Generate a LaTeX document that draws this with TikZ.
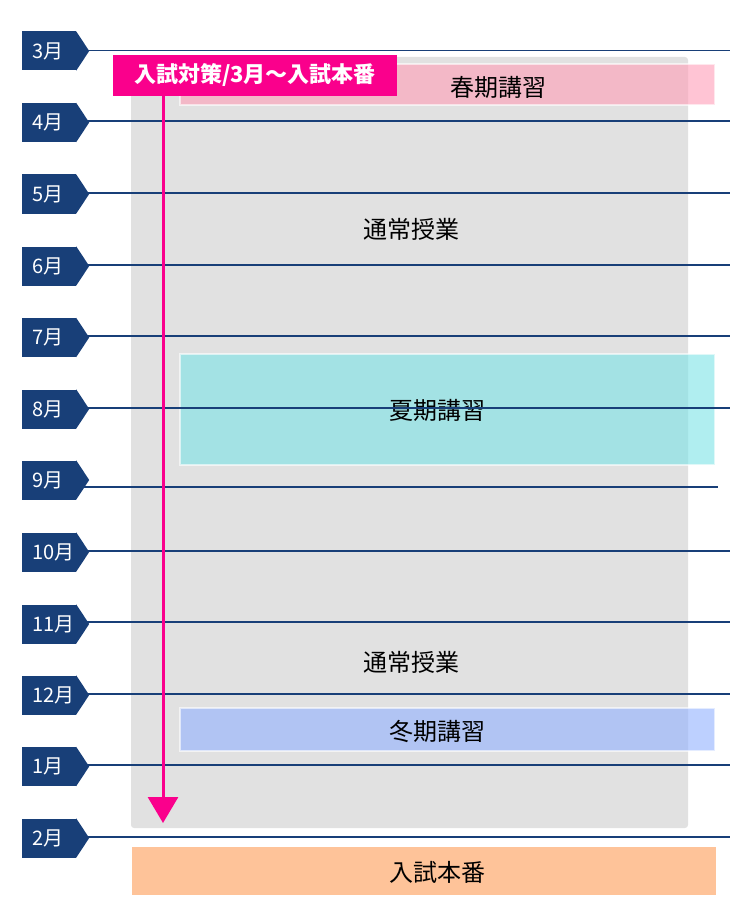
\documentclass[tikz,border=0pt]{standalone}
\usepackage{fontspec}
\setmainfont{Noto Sans CJK JP}
\usetikzlibrary{arrows.meta}
\definecolor{navy}{RGB}{24,63,120}
\definecolor{panelgray}{RGB}{225,225,225}
\definecolor{hotpink}{RGB}{250,0,140}
\definecolor{springpink}{RGB}{255,157,183}
\definecolor{summercyan}{RGB}{123,227,230}
\definecolor{winterblue}{RGB}{145,177,255}
\definecolor{examorange}{RGB}{254,195,153}
\tikzset{
	tab/.style={fill=navy, text=white, inner xsep=10, inner ysep=0, minimum height=39,
			text width=34, align=left, font=\fontsize{20}{20}\selectfont},
	monthline/.style={draw=navy, line width=1.1pt},
	season/.style={draw=white, draw opacity=0.6, line width=2pt, fill opacity=0.6},
	caption/.style={font=\fontsize{24}{24}\selectfont, text=black}
}

\begin{document}
\begin{tikzpicture}[x=1pt, y=-1pt]
        \useasboundingbox (0,0) rectangle (750,920);
        \fill [panelgray, rounded corners=3pt] (131, 57) rectangle (688, 828);
        \draw [season, fill=springpink] (180, 64) rectangle (715, 105);
        \draw [season, fill=summercyan] (180, 354) rectangle (715, 465);
        \draw [season, fill=winterblue] (180, 708) rectangle (715, 751);
        \fill [examorange] (132, 847) rectangle (716, 895);
        \node [caption] (spring) at (498, 87) {春期講習};
        \node [caption] (usual1) at (411, 229) {通常授業};
        \node [caption] (summer) at (437, 410) {夏期講習};
        \node [caption] (usual2) at (411, 662) {通常授業};
        \node [caption] (winter) at (437, 731) {冬期講習};
        \node [caption] (exam) at (437, 872) {入試本番};
        \foreach \m/\ty/\ly/\lx in {3/51/50.7/730, 4/122.5/121/730, 5/194/193/730, 6/266/265/730,
                7/337.5/336/730, 8/409/408/730, 9/480/487/718, 10/552/551/730,
                11/624/622/730, 12/695/694/730, 1/766.5/765/730, 2/838/837/730} {
            \coordinate (s\m) at (84, \ly);
            \coordinate (e\m) at (\lx, \ly);
            \draw [monthline] (s\m) -- (e\m);
            \node [tab] (m\m) at (49, \ty) {\m 月};
            \fill [navy] (m\m.north east) -- ([xshift=13pt]m\m.east) -- (m\m.south east) -- cycle;
        }
        \node [fill=hotpink, text=white, minimum width=284, minimum height=41.5, inner sep=0,
            font=\fontsize{22}{22}\selectfont\bfseries] (plan) at (255, 75.5) {入試対策/3月～入試本番};
        \coordinate (arrowend) at (163, 823);
        \draw [-{Triangle[width=30pt, length=26pt]}, draw=hotpink, fill=hotpink, line width=3pt]
            (plan.south -| arrowend) -- (arrowend);
    \end{tikzpicture}
\end{document}
